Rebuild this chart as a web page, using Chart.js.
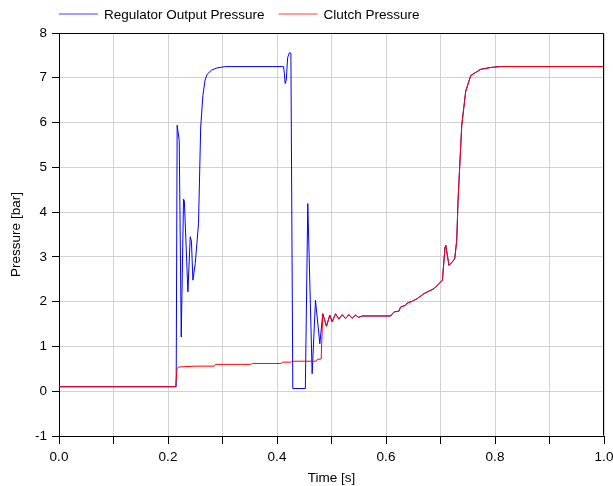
<!DOCTYPE html>
<html>
<head>
<meta charset="utf-8">
<script src="https://cdn.jsdelivr.net/npm/chart.js@4/dist/chart.umd.min.js"></script>
<style>
  body { margin: 0; background: #fff; }
  #myChart { display: block; }
</style>
</head>
<body>
<canvas id="myChart" width="613" height="486"></canvas>
<script>
// Regulator output pressure (blue) hasta que se junta con la del embrague
const regTime = [0, 0.215, 0.2168, 0.2206, 0.2243, 0.2285, 0.2300, 0.2365, 0.2408, 0.2430, 0.2457, 0.2500, 0.2560, 0.2600, 0.2640, 0.2680, 0.2720, 0.2800, 0.2900, 0.3050, 0.4120, 0.4135, 0.4150, 0.4170, 0.4195, 0.4228, 0.4255, 0.4290, 0.4520, 0.4565, 0.4645, 0.4706, 0.4786]
const regPressure = [0.1, 0.1, 5.94, 5.6, 1.21, 4.29, 4.25, 2.22, 3.45, 3.35, 2.48, 2.85, 3.75, 5.9, 6.6, 6.95, 7.08, 7.17, 7.22, 7.25, 7.25, 7.1, 6.87, 6.95, 7.45, 7.56, 7.55, 0.06, 0.06, 4.19, 0.39, 2.03, 1.06]

// Clutch pressure (red)
const clutchTime = [0, 0.214, 0.2165, 0.219, 0.25, 0.285, 0.287, 0.352, 0.355, 0.408, 0.41, 0.425, 0.427, 0.472, 0.474, 0.481, 0.484, 0.4908, 0.4969, 0.5013, 0.5074, 0.5134, 0.5197, 0.5257, 0.5318, 0.538, 0.544, 0.55, 0.5564, 0.6085, 0.6145, 0.6237, 0.6268, 0.636, 0.639, 0.6483, 0.6575, 0.6697, 0.688, 0.7035, 0.7083, 0.7096, 0.7156, 0.7219, 0.7261, 0.7298, 0.7322, 0.734, 0.739, 0.7463, 0.7555, 0.7739, 0.7923, 0.81, 1.0]
const clutchPressure = [0.1, 0.1, 0.5, 0.54, 0.56, 0.56, 0.6, 0.6, 0.62, 0.62, 0.65, 0.65, 0.67, 0.67, 0.71, 0.72, 1.73, 1.45, 1.70, 1.55, 1.73, 1.61, 1.71, 1.62, 1.71, 1.63, 1.70, 1.65, 1.68, 1.68, 1.77, 1.79, 1.88, 1.92, 1.97, 2.01, 2.07, 2.18, 2.29, 2.48, 3.22, 3.26, 2.81, 2.89, 2.96, 3.37, 4.26, 4.71, 5.94, 6.7, 7.05, 7.19, 7.23, 7.25, 7.25]

// desde aqui la curva azul queda debajo de la roja
const mergeTime = 0.484

const seriesNames = ['Regulator Output Pressure', 'Clutch Pressure']
const seriesColors = ['#0000ff', '#ff0000']
const xTitle = 'Time [s]'
const yTitle = 'Pressure [bar]'

const toPoints = (times, values) => times.map((t, i) => ({ x: t, y: values[i] }))

const clutchPoints = toPoints(clutchTime, clutchPressure)
const regPoints = toPoints(regTime, regPressure).concat(clutchPoints.filter((p) => p.x >= mergeTime))

Chart.defaults.font.family = '"Liberation Sans", Arial, sans-serif'
Chart.defaults.font.size = 13.5
Chart.defaults.color = '#000'

// leyenda dibujada a mano para ubicarla igual que el original
const legendLines = {
  id: 'legendLines',
  afterDraw (chart) {
    const ctx = chart.ctx
    let x = chart.chartArea.left
    const y = 14
    ctx.save()
    ctx.font = '13.5px "Liberation Sans", Arial, sans-serif'
    ctx.textBaseline = 'middle'
    chart.data.datasets.forEach((ds) => {
      ctx.strokeStyle = ds.borderColor
      ctx.globalAlpha = 0.75
      ctx.lineWidth = 1
      ctx.beginPath()
      ctx.moveTo(x, y)
      ctx.lineTo(x + 39, y)
      ctx.stroke()
      ctx.globalAlpha = 1
      ctx.fillStyle = '#000'
      ctx.fillText(ds.label, x + 45, y + 1)
      x += 45 + ctx.measureText(ds.label).width + 14
    })
    ctx.restore()
  }
}

// marco superior y derecho
const frame = {
  id: 'frame',
  afterDatasetsDraw (chart) {
    const { ctx, chartArea } = chart
    const l = Math.round(chartArea.left) + 0.5
    const r = Math.round(chartArea.right) - 0.5
    const t = Math.round(chartArea.top) + 0.5
    const b = Math.round(chartArea.bottom) - 0.5
    ctx.save()
    ctx.strokeStyle = '#000'
    ctx.lineWidth = 1
    ctx.beginPath()
    ctx.moveTo(l, t)
    ctx.lineTo(r, t)
    ctx.lineTo(r, b)
    ctx.stroke()
    ctx.restore()
  }
}

const config = {
  type: 'line',
  data: {
    datasets: [
      {
        label: seriesNames[0],
        data: regPoints,
        borderColor: seriesColors[0],
        borderWidth: 1,
        pointRadius: 0,
        fill: false,
        order: 1
      },
      {
        label: seriesNames[1],
        data: clutchPoints,
        borderColor: seriesColors[1],
        borderWidth: 1,
        pointRadius: 0,
        fill: false,
        order: 0
      }
    ]
  },
  options: {
    responsive: false,
    animation: false,
    devicePixelRatio: 1,
    layout: { padding: { top: 33, right: 9, left: 0, bottom: 0 } },
    plugins: {
      legend: { display: false },
      tooltip: { enabled: false }
    },
    scales: {
      x: {
        type: 'linear',
        min: 0,
        max: 1,
        ticks: {
          stepSize: 0.1,
          autoSkip: false,
          maxRotation: 0,
          padding: 5,
          callback: (value, index) => (index % 2 === 0 ? value.toFixed(1) : '')
        },
        grid: { color: '#d2d2d2', tickColor: '#000', tickLength: 8 },
        border: { color: '#000', width: 1 },
        title: { display: true, text: xTitle, padding: { top: 2, bottom: 0 } },
        afterFit: (scale) => {
          scale.height = 50
          scale.paddingLeft = 0
          scale.paddingRight = 0
        }
      },
      y: {
        min: -1,
        max: 8,
        ticks: { stepSize: 1, padding: 5 },
        grid: { color: '#d2d2d2', tickColor: '#000', tickLength: 7 },
        border: { color: '#000', width: 1 },
        title: { display: true, text: yTitle, padding: { top: 8, bottom: 0 } },
        afterFit: (scale) => { scale.width = 59 }
      }
    }
  },
  plugins: [legendLines, frame]
}

const chart = new Chart(document.getElementById('myChart'), config)
</script>
</body>
</html>
